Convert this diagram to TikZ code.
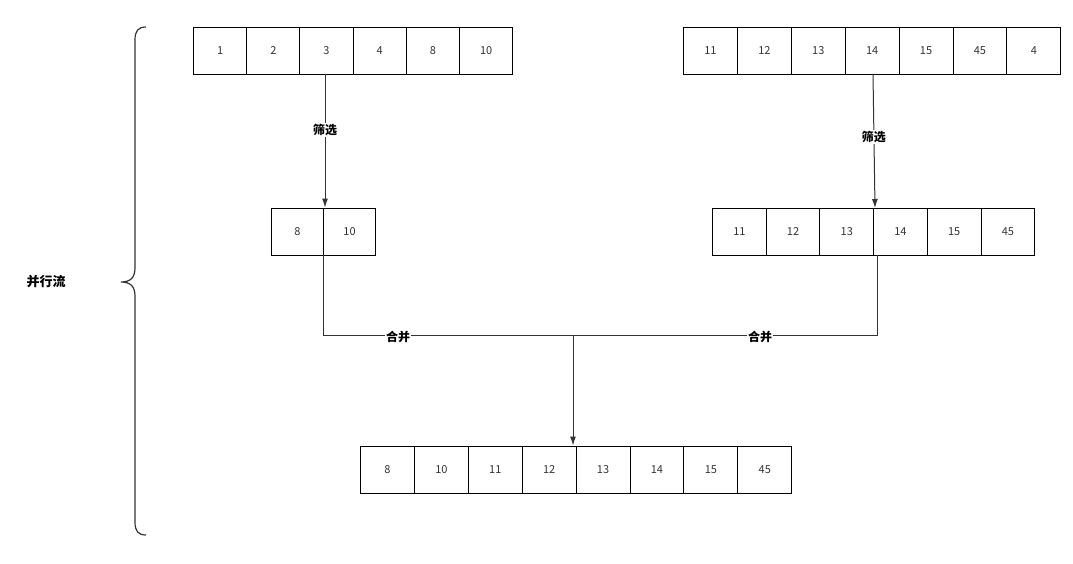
\documentclass[tikz,border=0pt]{standalone}
\usepackage{fontspec}
\setmainfont{Noto Sans CJK SC}
\usetikzlibrary{positioning,arrows.meta}
\tikzset{
	cell/.style={draw, line width=1pt, minimum height=47pt, inner sep=0pt, anchor=west, font=\fontsize{11}{13}\selectfont, text=black!80},
	lab/.style={fill=white, inner sep=1pt, font=\bfseries\fontsize{12}{14}\selectfont},
	flow/.style={draw=black!80, line width=1pt},
	arr/.style={flow, -{Latex[length=9pt,width=6pt]}}
}
\begin{document}
\begin{tikzpicture}[x=1pt,y=-1pt]
	\useasboundingbox (0,0) rectangle (1073,563);
	% top rows
	\foreach \v [count=\i] in {1,2,3,4,8,10}
		\node[cell, minimum width=53.2pt] (a\i) at (193+53.2*\i-53.2,50.5) {\v};
	\foreach \v [count=\i] in {11,12,13,14,15,45,4}
		\node[cell, minimum width=53.9pt] (b\i) at (683+53.9*\i-53.9,50.5) {\v};
	% filtered rows
	\foreach \v [count=\i] in {8,10}
		\node[cell, minimum width=52pt] (c\i) at (271+52*\i-52,231.5) {\v};
	\foreach \v [count=\i] in {11,12,13,14,15,45}
		\node[cell, minimum width=53.7pt] (d\i) at (712+53.7*\i-53.7,231.5) {\v};
	% merged row
	\foreach \v [count=\i] in {8,10,11,12,13,14,15,45}
		\node[cell, minimum width=53.9pt] (e\i) at (360+53.9*\i-53.9,469.5) {\v};

	\coordinate (lt) at (325,74);
	\coordinate (rt) at (873,74);
	\coordinate (lm) at (323,255);
	\coordinate (rm) at (877,255);
	\coordinate (mid) at (573,335);

	\draw[arr] (lt) -- (lt |- c1.north) node[lab, pos=0.42] {筛选};
	\draw[arr] (rt) -- (875,208) node[lab, pos=0.47] {筛选};
	\draw[flow] (lm) -- (lm |- mid) -- (rm |- mid) -- (rm);
	\draw[arr] (mid) -- (mid |- e5.north);
	\node[lab] (m1) at (398,337) {合并};
	\node[lab] (m2) at (760,337) {合并};

	% brace
	\draw[flow, line width=1.2pt] (146,27) .. controls (138,27) and (135,31) .. (135,40) -- (135,268)
		.. controls (135,278) and (130,282) .. (121,282)
		.. controls (130,282) and (135,286) .. (135,296) -- (135,522)
		.. controls (135,531) and (138,535) .. (146,535);
	\node[font=\bfseries\fontsize{13}{15}\selectfont] (par) at (46,282) {并行流};
\end{tikzpicture}
\end{document}
